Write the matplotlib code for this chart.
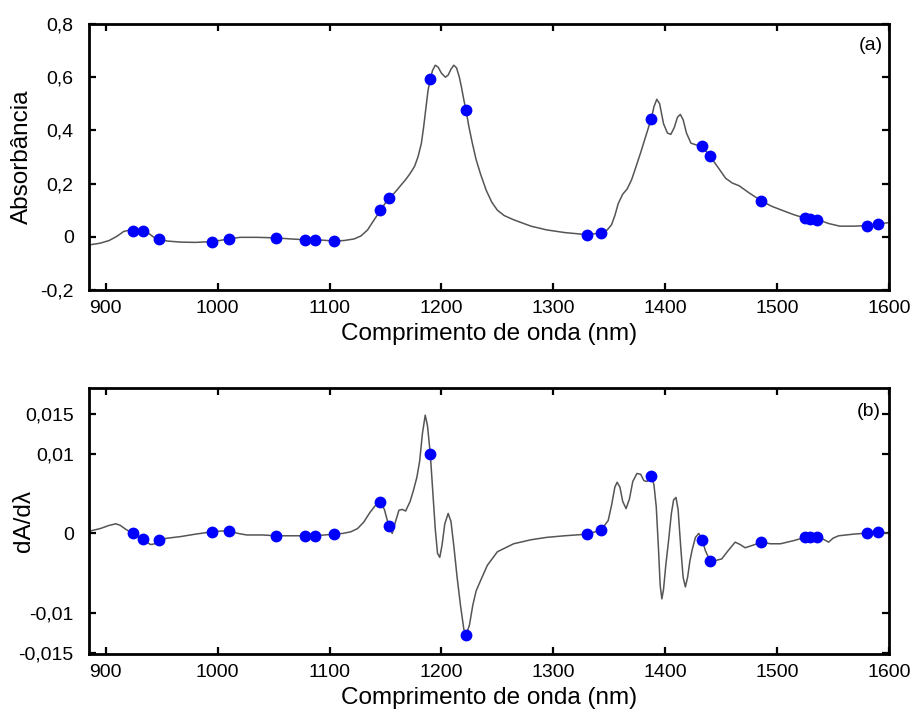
import numpy as np
import matplotlib
matplotlib.use("Agg")
import matplotlib.pyplot as plt

plt.rcParams['font.family'] = ['Liberation Sans', 'DejaVu Sans']

# Espectro de absorbancia (curva)
comp_onda = [886, 895, 903, 910, 916, 920, 924, 933, 938, 943, 948, 955, 967,
             980, 995, 1003, 1010, 1020, 1035, 1052, 1065, 1078, 1087, 1095,
             1104, 1113, 1122, 1128, 1134, 1140, 1145.5, 1150, 1153, 1158,
             1163, 1168, 1172, 1176, 1179, 1182, 1184, 1186, 1188, 1190, 1192,
             1194.5, 1197, 1200, 1203.5, 1206, 1208.5, 1211, 1213.5, 1216,
             1218, 1220, 1222, 1224.5, 1227.5, 1231, 1235, 1240, 1245, 1250,
             1256, 1264.5, 1280, 1294, 1310, 1330, 1342.6, 1348, 1352, 1355,
             1358, 1362, 1366, 1370, 1374, 1378, 1382, 1387.5, 1390, 1392.5,
             1395, 1398.5, 1402, 1405, 1408, 1411, 1413.5, 1416, 1419, 1423,
             1428, 1433, 1440, 1447, 1454, 1460, 1466, 1475, 1486, 1495, 1503,
             1515, 1525, 1529.5, 1536, 1546, 1556, 1568, 1580, 1590.5, 1599]
absorbancia = [-0.030, -0.024, -0.014, 0.002, 0.020, 0.024, 0.023, 0.023,
               0.014, -0.002, -0.009, -0.016, -0.020, -0.021, -0.018, -0.013,
               -0.008, -0.002, -0.002, -0.004, -0.008, -0.011, -0.011, -0.013,
               -0.016, -0.014, -0.008, 0.003, 0.026, 0.065, 0.099, 0.128,
               0.145, 0.165, 0.190, 0.215, 0.238, 0.265, 0.300, 0.350, 0.410,
               0.480, 0.550, 0.592, 0.625, 0.645, 0.638, 0.615, 0.600, 0.608,
               0.630, 0.645, 0.635, 0.600, 0.560, 0.515, 0.475, 0.415, 0.354,
               0.290, 0.235, 0.175, 0.130, 0.100, 0.080, 0.064, 0.040, 0.026,
               0.016, 0.008, 0.014, 0.025, 0.045, 0.080, 0.125, 0.160, 0.180,
               0.215, 0.265, 0.316, 0.370, 0.444, 0.490, 0.517, 0.500, 0.425,
               0.390, 0.385, 0.410, 0.450, 0.460, 0.440, 0.390, 0.352, 0.345,
               0.340, 0.303, 0.262, 0.220, 0.202, 0.192, 0.165, 0.135, 0.115,
               0.102, 0.083, 0.070, 0.068, 0.065, 0.050, 0.040, 0.040, 0.042,
               0.048, 0.053]

# Primeira derivada (curva)
comp_onda_d = [886, 895, 903, 909, 913, 918, 924, 933, 940, 944, 948, 955, 967,
               980, 995, 1003, 1010, 1018, 1026, 1040, 1052, 1078, 1087, 1104,
               1112, 1119, 1125, 1130.5, 1136, 1141, 1145.5, 1149, 1153, 1156,
               1159, 1162, 1165, 1168, 1172, 1175, 1178, 1180.5, 1183, 1185.5,
               1187.5, 1190, 1192.5, 1194.5, 1196.5, 1198.5, 1200.5, 1203, 1206,
               1208.5, 1211, 1214, 1217, 1220, 1222, 1225, 1228, 1231, 1235,
               1241, 1250, 1264.5, 1280, 1294, 1310, 1330, 1342.6, 1349, 1352,
               1355, 1357, 1359.5, 1362, 1365, 1368, 1371, 1374.7, 1378, 1381,
               1383.7, 1388, 1390, 1392, 1394, 1395.5, 1397, 1398.5, 1400.5,
               1403, 1405.5, 1407.5, 1409.6, 1411.5, 1414, 1416, 1418, 1420,
               1422, 1424, 1427, 1430, 1433, 1436, 1440, 1445, 1450.5, 1456,
               1462.5, 1467, 1471.4, 1478, 1486, 1494, 1503, 1515, 1525, 1529.5,
               1536, 1541, 1546, 1550, 1555, 1568, 1580, 1590.5, 1599]
derivada = [0.0003, 0.0006, 0.0010, 0.0012, 0.0010, 0.0005, 0.0000, -0.00075,
            -0.0014, -0.0013, -0.0008, -0.0006, -0.0004, -0.0001, 0.0002,
            0.0003, 0.0003, 0.0000, -0.0002, -0.0002, -0.0003, -0.0003,
            -0.0003, -0.0001, 0.0000, 0.0002, 0.0006, 0.0014, 0.0026, 0.0035,
            0.0039, 0.0030, 0.0009, 0.0000, 0.0015, 0.0029, 0.0030, 0.0028,
            0.0040, 0.0054, 0.0070, 0.0090, 0.0125, 0.0148, 0.0135, 0.0100,
            0.0048, 0.0005, -0.0025, -0.0030, -0.0015, 0.0012, 0.0025, 0.0015,
            -0.0015, -0.0055, -0.0090, -0.0120, -0.0127, -0.0115, -0.0090,
            -0.0072, -0.0059, -0.0040, -0.0023, -0.0013, -0.0008, -0.0005,
            -0.0003, -0.0001, 0.0004, 0.0016, 0.0035, 0.0058, 0.0064, 0.0058,
            0.0040, 0.0031, 0.0043, 0.0065, 0.0075, 0.0074, 0.0066, 0.0065,
            0.0072, 0.0060, 0.0033, -0.0020, -0.0065, -0.0082, -0.0070,
            -0.0040, -0.0009, 0.0025, 0.0042, 0.0045, 0.0030, -0.0020, -0.0055,
            -0.0067, -0.0055, -0.0035, -0.0021, -0.0005, 0.0000, -0.0008,
            -0.0022, -0.0034, -0.0034, -0.0032, -0.0022, -0.0011, -0.0014,
            -0.0018, -0.0015, -0.0011, -0.0013, -0.0013, -0.0009, -0.0005,
            -0.0005, -0.0005, -0.0007, -0.0011, -0.0006, -0.0003, -0.0001,
            0.00004, 0.0002, 0.0000]

# Comprimentos de onda selecionados (pontos azuis)
sel_onda = [924, 933, 948, 995, 1010, 1052, 1078, 1087, 1104, 1145.5, 1153,
            1190, 1222, 1330, 1342.6, 1387.5, 1433, 1440, 1486, 1525, 1529.5,
            1536, 1580, 1590.5]
sel_abs = [0.023, 0.023, -0.009, -0.018, -0.008, -0.004, -0.011, -0.011,
           -0.016, 0.099, 0.145, 0.592, 0.475, 0.008, 0.014, 0.444, 0.340,
           0.303, 0.135, 0.070, 0.068, 0.065, 0.042, 0.048]
sel_der = [0.0000, -0.00075, -0.0008, 0.0002, 0.0003, -0.0003, -0.0003,
           -0.0003, -0.0001, 0.0039, 0.0009, 0.0100, -0.0127, -0.0001, 0.0004,
           0.0072, -0.0008, -0.0034, -0.0011, -0.0005, -0.0005, -0.0005,
           0.00004, 0.0002]

xticks = [900, 1000, 1100, 1200, 1300, 1400, 1500, 1600]
yticks_a = [-0.2, 0, 0.2, 0.4, 0.6, 0.8]
ylabels_a = ["-0,2", "0", "0,2", "0,4", "0,6", "0,8"]
yticks_b = [-0.015, -0.01, 0, 0.01, 0.015]
ylabels_b = ["-0,015", "-0,01", "0", "0,01", "0,015"]


def estilo(ax):
    for sp in ax.spines.values():
        sp.set_linewidth(2)
    ax.tick_params(direction="in", top=True, right=True, length=5, width=1.6,
                   labelsize=14)
    ax.tick_params(axis="x", pad=7)
    ax.tick_params(axis="y", pad=11)
    ax.set_xlim(885, 1600)
    ax.set_xticks(xticks)
    ax.set_xlabel("Comprimento de onda (nm)", fontsize=17.5)
    ax.xaxis.set_label_coords(0.5, -0.125)


fig = plt.figure(figsize=(9.16, 7.13), dpi=100)

# (a) espectro
ax1 = fig.add_axes([89/916, 1 - 290/713, 800/916, 266/713])
ax1.plot(comp_onda, absorbancia, color="#555555", lw=1.1)
ax1.plot(sel_onda, sel_abs, "o", color="#0000ff", ms=8.5, mec="none")
estilo(ax1)
ax1.set_ylim(-0.2, 0.8)
ax1.set_yticks(yticks_a)
ax1.set_yticklabels(ylabels_a)
ax1.set_ylabel("Absorbância", fontsize=17.5)
ax1.yaxis.set_label_coords(-0.07, 0.5)
ax1.text(0.977, 0.92, "(a)", transform=ax1.transAxes, fontsize=14,
         ha="center", va="center")

# (b) primeira derivada
ax2 = fig.add_axes([89/916, 1 - 654/713, 800/916, 266/713])
ax2.plot(comp_onda_d, derivada, color="#555555", lw=1.1)
ax2.plot(sel_onda, sel_der, "o", color="#0000ff", ms=8.5, mec="none")
estilo(ax2)
ax2.set_ylim(-0.0151, 0.0182)
ax2.set_yticks(yticks_b)
ax2.set_yticklabels(ylabels_b)
ax2.set_ylabel("dA/d\u03bb", fontsize=17.5)
ax2.yaxis.set_label_coords(-0.068, 0.5)
ax2.text(0.975, 0.91, "(b)", transform=ax2.transAxes, fontsize=14,
         ha="center", va="center")

fig.savefig("out.png", dpi=100)
